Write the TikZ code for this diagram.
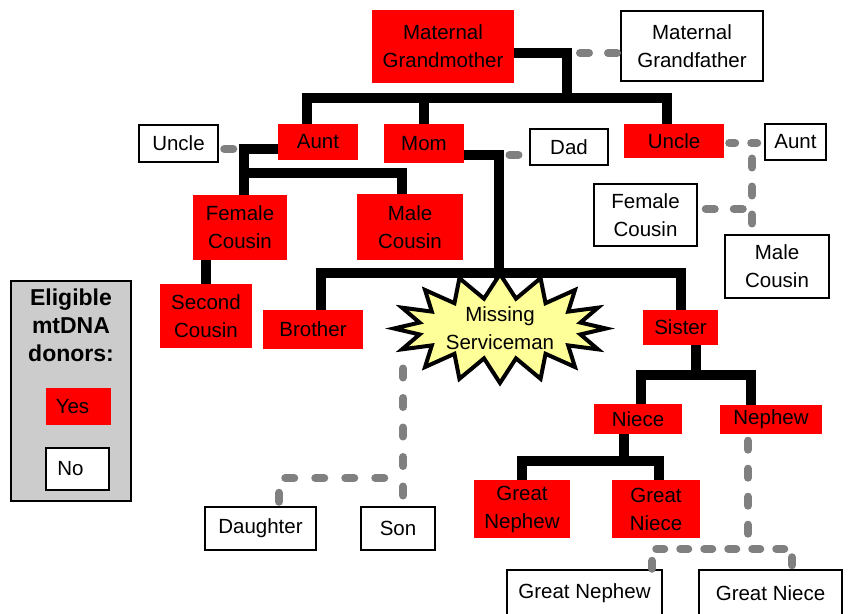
\documentclass[tikz,border=0pt]{standalone}
\usepackage{fontspec}
\setmainfont{Liberation Sans}
\usetikzlibrary{shapes.symbols}
\definecolor{donorred}{HTML}{FF0000}
\definecolor{burst}{HTML}{FFFF99}
\definecolor{dotgray}{HTML}{808080}
\definecolor{keygray}{HTML}{CCCCCC}
\tikzstyle{donor}=[rectangle, fill=donorred, align=center, inner sep=0pt]
\tikzstyle{other}=[rectangle, draw=black, line width=2.5pt, fill=white, align=center, inner sep=0pt]
\tikzstyle{famline}=[line width=10pt, line join=miter]
\tikzstyle{dotline}=[dotgray, line width=8pt, line cap=round, dash pattern=on 9pt off 19pt]
\begin{document}
\begin{tikzpicture}[x=1pt, y=-1pt, font=\fontsize{20.5}{28}\selectfont]
\useasboundingbox (0,0) rectangle (851,613);

\draw (71,391) node[rectangle, draw, line width=2pt, fill=keygray, minimum width=120, minimum height=220] (Key) {};
\draw (71,325) node[align=center, font=\fontsize{23}{28}\selectfont\bfseries] (KeyTitle) {Eligible\\mtDNA\\donors:};
\draw (78.5,406.5) node[donor, minimum width=65, minimum height=37] (KeyYes) {Yes\hspace{12pt}};
\draw (77.5,469) node[other, minimum width=63, minimum height=42] (KeyNo) {No\hspace{14pt}};

\draw (443,46.5) node[donor, minimum width=142, minimum height=73] (MatGM) {Maternal\\Grandmother};
\draw (692,46) node[other, minimum width=142, minimum height=70] (MatGF) {Maternal\\Grandfather};
\draw (318,142) node[donor, minimum width=80, minimum height=36] (AuntM) {Aunt};
\draw (424,143.5) node[donor, minimum width=80, minimum height=39] (Mom) {Mom};
\draw (674,141) node[donor, minimum width=100, minimum height=34] (UncleM) {Uncle};
\draw (178.5,143.5) node[other, minimum width=79, minimum height=37] (UncleP) {Uncle};
\draw (569,147) node[other, minimum width=78, minimum height=36] (Dad) {Dad};
\draw (795.5,142) node[other, minimum width=61, minimum height=36] (AuntP) {Aunt};
\draw (240,227.5) node[donor, minimum width=94, minimum height=65] (FCousinM) {Female\\Cousin};
\draw (410,227) node[donor, minimum width=106, minimum height=66] (MCousinM) {Male\\Cousin};
\draw (645.5,215) node[other, minimum width=103, minimum height=62] (FCousinP) {Female\\Cousin};
\draw (777,266.5) node[other, minimum width=104, minimum height=63] (MCousinP) {Male\\Cousin};
\draw (206,316) node[donor, minimum width=92, minimum height=64] (SCousin) {Second\\Cousin};
\draw (313,329.5) node[donor, minimum width=100, minimum height=39] (Brother) {Brother};
\draw (680.5,327.5) node[donor, minimum width=75, minimum height=35] (Sister) {Sister};
\draw (638,419) node[donor, minimum width=88, minimum height=30] (Niece) {Niece};
\draw (771,419.5) node[donor, minimum width=102, minimum height=29] (Nephew) {Nephew};
\draw (522,509) node[donor, minimum width=96, minimum height=58] (GNephewM) {Great\\Nephew};
\draw (656,509) node[donor, minimum width=88, minimum height=58] (GNieceM) {Great\\Niece};
\draw (584.5,593) node[other, minimum width=155, minimum height=46] (GNephewP) {Great Nephew};
\draw (770.5,593) node[other, minimum width=143, minimum height=46] (GNieceP) {Great Niece};
\draw (260.5,528.5) node[other, minimum width=111, minimum height=43] (Daughter) {Daughter};
\draw (398,528.5) node[other, minimum width=74, minimum height=43] (Son) {Son};

\coordinate (GPJ) at (567,98);
\coordinate (AuntJ) at (244,149);
\coordinate (AuntBar) at (244,173);
\coordinate (MomJ) at (499,155);
\coordinate (SibBar) at (499,273);
\coordinate (MissTop) at (499,300);
\coordinate (SisBar) at (696,375);
\coordinate (NieceBar) at (624,461);
\coordinate (GPDot) at (580,53);
\coordinate (UncleJ) at (752,143);
\coordinate (FCousinJ) at (748,209);
\coordinate (NephJ) at (748,545);
\coordinate (MissBot) at (403,368.5);
\coordinate (DauJ) at (395,478);

\draw[famline] ([yshift=-6]MatGM.east) -| (GPJ);
\draw[famline] ([xshift=-11]AuntM.north) |- (GPJ) -| ([xshift=-7]UncleM.north);
\draw[famline] (Mom.north) -- (Mom.north |- GPJ);
\draw[famline] (AuntM.west |- AuntJ) -- (AuntJ) -- (AuntJ |- FCousinM.north);
\draw[famline] (AuntBar) -| ([xshift=-8]MCousinM.north);
\draw[famline] (SCousin.north |- FCousinM.south) -- (SCousin.north);
\draw[famline] (Mom.east |- MomJ) -- (MomJ) -- (MissTop);
\draw[famline] ([xshift=8]Brother.north) |- (SibBar) -| (Sister.north);
\draw[famline] ([xshift=15.5]Sister.south) -- (SisBar);
\draw[famline] ([xshift=3]Niece.north) |- (SisBar) -| ([xshift=-20]Nephew.north);
\draw[famline] ([xshift=-14]Niece.south) -- (NieceBar);
\draw[famline] (GNephewM.north) |- (NieceBar) -| ([xshift=3]GNieceM.north);

\draw (500,328.5) node[starburst, fill=burst, draw=black, line width=4pt, minimum width=212pt, minimum height=60pt, starburst points=16, starburst point height=24pt, random starburst=0, align=center, inner sep=0pt] (Missing) {Missing\\Serviceman};

\draw[dotline] (GPDot) -- (MatGF.west |- GPDot);
\draw[dotline] ([xshift=5]UncleP.east |- AuntJ) -- ([xshift=-5]AuntJ);
\draw[dotline] ([xshift=10.5]MomJ) -- (Dad.west |- MomJ);
\draw[dotline, dash pattern=on 6pt off 16pt] ([xshift=5]UncleM.east |- UncleJ) -- (AuntP.west |- UncleJ);
\draw[dotline] ([yshift=-15.5]UncleJ) -- (UncleJ |- MCousinP.north);
\draw[dotline] (FCousinP.east |- FCousinJ) ++(7.5,0) -- (FCousinJ);
\draw[dotline] ([xshift=-23,yshift=-6.5]Nephew.south) -- (NephJ);
\draw[dotline, dash pattern=on 8pt off 16pt] ([xshift=67.5]GNephewP.north) |- ([yshift=-4]NephJ) -| ([xshift=21.5]GNieceP.north);
\draw[dotline, dash pattern=on 9pt off 20.5pt] (MissBot) -- (MissBot |- Son.north);
\draw[dotline, dash pattern=on 9pt off 21pt] ([xshift=18.5,yshift=4]Daughter.north) |- (DauJ);
\end{tikzpicture}
\end{document}
